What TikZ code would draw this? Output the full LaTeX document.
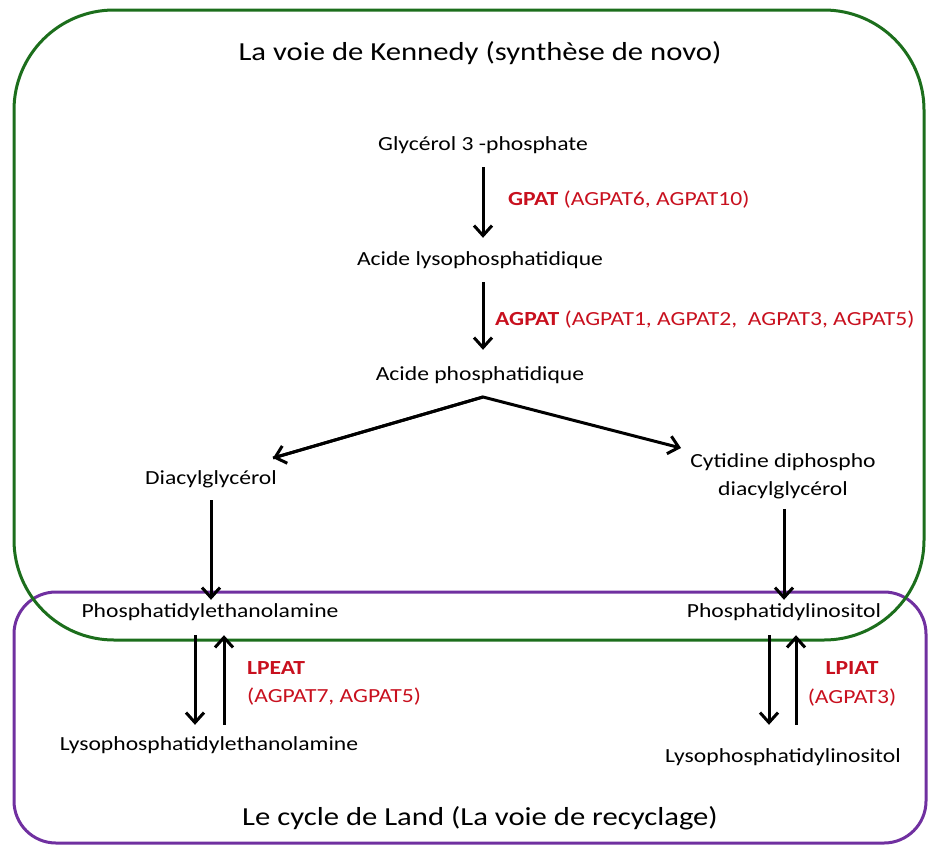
\documentclass[tikz,border=0pt]{standalone}
\usepackage{fontspec}
\setmainfont{Carlito}[FakeStretch=1.18]
\usetikzlibrary{arrows.meta}
\definecolor{kgreen}{RGB}{28,110,28}
\definecolor{lpurple}{RGB}{112,48,160}
\definecolor{ered}{RGB}{200,16,30}
\tikzset{
  lbl/.style={inner sep=0pt, text height=14pt, text depth=4pt, font=\fontsize{20}{24}\selectfont},
  enz/.style={inner sep=0pt, anchor=west, text=ered, font=\fontsize{20}{24}\selectfont},
  ttl/.style={inner sep=0pt, font=\fontsize{26}{30}\selectfont},
  arr/.style={line width=3pt, -{Straight Barb[length=10pt,width=18pt,line width=3pt]}},
  box/.style={line width=3pt}
}
\begin{document}
\begin{tikzpicture}[x=1pt,y=-1pt]
\useasboundingbox (0,0) rectangle (928,846);
% boxes
\draw[box, lpurple, rounded corners=42pt] (14,592) rectangle (926,843);
\draw[box, kgreen, rounded corners=100pt] (14,10) rectangle (924,640);
% titles
\node[ttl] (t1) at (480,53) {La voie de Kennedy (synthèse de novo)};
\node[ttl] (t2) at (480,818) {Le cycle de Land (La voie de recyclage)};
% nodes
\node[lbl] (g) at (483,145) {Glycérol 3 -phosphate};
\node[lbl] (al) at (480,260) {Acide lysophosphatidique};
\node[lbl] (ap) at (480,375) {Acide phosphatidique};
\node[lbl] (dag) at (211,479) {Diacylglycérol};
\node[inner sep=0pt, align=center, font=\fontsize{20}{28}\selectfont] (cdp) at (783,476) {Cytidine diphospho\\diacylglycérol};
\node[lbl] (pe) at (210,612) {Phosphatidylethanolamine};
\node[lbl] (pi) at (784,612) {Phosphatidylinositol};
\node[lbl] (lpe) at (209,745) {Lysophosphatidylethanolamine};
\node[lbl] (lpi) at (783,757) {Lysophosphatidylinositol};
% enzymes
\node[enz] (e1) at (508,200) {\textbf{GPAT} (AGPAT6, AGPAT10)};
\node[enz] (e2) at (495,320) {\textbf{AGPAT} (AGPAT1, AGPAT2,\ \ AGPAT3, AGPAT5)};
\node[enz] (e3) at (247,668) {\textbf{LPEAT}};
\node[enz] (e4) at (247,697) {(AGPAT7, AGPAT5)};
\node[enz, anchor=center] (e5) at (852,668) {\textbf{LPIAT}};
\node[enz, anchor=center] (e6) at (852,698) {(AGPAT3)};
% coordinates
\coordinate (apex) at (483,397);
\coordinate (tipL) at (273,458);
\coordinate (tipR) at (681,448);
% arrows
\draw[arr, shorten <=13pt, shorten >=13pt] (g.south -| 483,0) -- (al.north -| 483,0);
\draw[arr, shorten <=13pt, shorten >=16pt] (al.south -| 483,0) -- (ap.north -| 483,0);
\draw[arr, line join=miter] (tipL) -- (apex) -- (tipR);
\draw[arr] (apex) -- (tipL);
\draw[arr, shorten <=12pt, shorten >=3pt] (dag.south) -- (pe.north -| dag.south);
\draw[arr, shorten <=10pt, shorten >=3pt] (cdp.south -| 784,0) -- (pi.north -| 784,0);
\draw[arr, shorten <=14pt, shorten >=11pt] (pe.south -| 195,0) -- (lpe.north -| 195,0);
\draw[arr, shorten <=11pt, shorten >=14pt] (lpe.north -| 224,0) -- (pe.south -| 224,0);
\draw[arr, shorten <=14pt, shorten >=23pt] (pi.south -| 769,0) -- (lpi.north -| 769,0);
\draw[arr, shorten <=23pt, shorten >=14pt] (lpi.north -| 796,0) -- (pi.south -| 796,0);
\end{tikzpicture}
\end{document}
